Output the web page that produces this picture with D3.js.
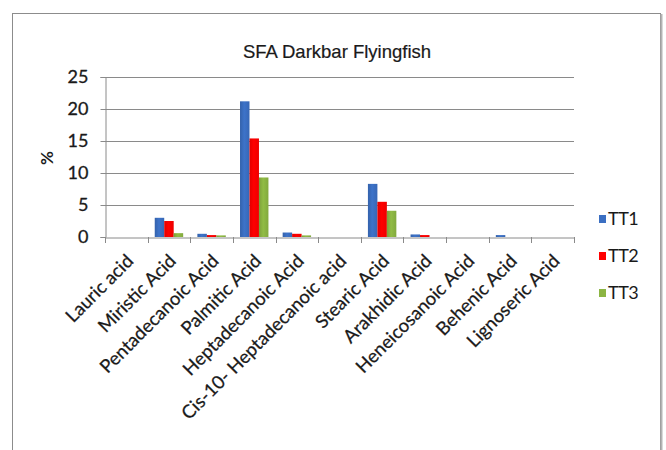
<!DOCTYPE html>
<html>
<head>
<meta charset="utf-8">
<script src="https://cdn.jsdelivr.net/npm/d3@7"></script>
<style>
  html, body { margin: 0; padding: 0; background: #fff; }
  svg { display: block; }
</style>
</head>
<body>
<svg id="chart" width="666" height="450"></svg>
<script>
// Fatty acid categories (x axis)
const categories = [
  "Lauric acid", "Miristic Acid", "Pentadecanoic Acid", "Palmitic Acid",
  "Heptadecanoic Acid", "Cis-10- Heptadecanoic acid", "Stearic Acid",
  "Arakhidic Acid", "Heneicosanoic Acid", "Behenic Acid", "Lignoseric Acid"
];
// Series names and their values (%)
const seriesNames = ["TT1", "TT2", "TT3"];
const tt1 = [0, 3.0, 0.5, 21.2, 0.7, 0, 8.3, 0.4, 0, 0.3, 0];
const tt2 = [0, 2.5, 0.3, 15.4, 0.5, 0, 5.5, 0.3, 0, 0, 0];
const tt3 = [0, 0.6, 0.25, 9.3, 0.25, 0, 4.1, 0, 0, 0, 0];
const yTicks = [0, 5, 10, 15, 20, 25];
const colors = ["#3b6fc2", "#ff0000", "#8cb543"];

const svg = d3.select("#chart");
const labelFont = "Lato, 'Open Sans', sans-serif";

// Chart frame
svg.append("rect").attr("x", 12.5).attr("y", 13.5).attr("width", 648).attr("height", 460)
  .attr("fill", "#fff").attr("stroke", "#8c8c8c").attr("stroke-width", 1);
svg.append("line").attr("x1", 661.5).attr("x2", 661.5).attr("y1", 14).attr("y2", 450)
  .attr("stroke", "#b4b4b4").attr("stroke-width", 2);

// Gradients for the bars
const defs = svg.append("defs");
colors.forEach((c, i) => {
  const g = defs.append("linearGradient").attr("id", "grad" + i)
    .attr("x1", "0%").attr("x2", "100%").attr("y1", "0%").attr("y2", "0%");
  const base = d3.color(c);
  g.append("stop").attr("offset", "0%").attr("stop-color", base.darker(0.35));
  g.append("stop").attr("offset", "45%").attr("stop-color", base.brighter(0.1));
  g.append("stop").attr("offset", "100%").attr("stop-color", base.darker(0.2));
});

// Scales
const x = d3.scaleBand().domain(categories).range([105, 574]).paddingInner(0).paddingOuter(0);
const bw = x.bandwidth();
const xs = d3.scaleBand().domain(seriesNames).range([bw / 6, bw * 5 / 6]).padding(0);
const y = d3.scaleLinear().domain([0, 25]).range([237, 77]);

// Gridlines
svg.append("g").selectAll("line").data(yTicks.filter(t => t > 0)).join("line")
  .attr("x1", 105).attr("x2", 574)
  .attr("y1", d => Math.round(y(d)) + 0.5).attr("y2", d => Math.round(y(d)) + 0.5)
  .attr("stroke", "#8a8a8a").attr("stroke-width", 1);

// Y axis
const yAxis = svg.append("g").attr("transform", "translate(105.5,0)")
  .call(d3.axisLeft(y).tickValues(yTicks).tickSize(5).tickPadding(12));
yAxis.select(".domain").attr("stroke", "#8a8a8a");
yAxis.selectAll(".tick line").attr("stroke", "#8a8a8a");
yAxis.selectAll(".tick text").attr("font-family", labelFont).attr("font-size", 18)
  .attr("fill", "#1a1a1a").attr("stroke", "#1a1a1a").attr("stroke-width", 0.3);

// Bars
const series = [tt1, tt2, tt3];
const groups = svg.append("g").selectAll("g").data(categories).join("g")
  .attr("transform", d => `translate(${x(d)},0)`);
groups.selectAll("rect")
  .data((d, i) => seriesNames.map((s, k) => ({ s, k, v: series[k][i] })))
  .join("rect")
  .attr("x", d => xs(d.s))
  .attr("width", xs.bandwidth())
  .attr("y", d => y(d.v))
  .attr("height", d => y(0) - y(d.v))
  .attr("fill", d => `url(#grad${d.k})`);

// X axis with ticks at category boundaries
const xAxis = svg.append("g").attr("transform", "translate(0,237.5)")
  .call(d3.axisBottom(x).tickSize(0).tickFormat(""));
xAxis.select(".domain").attr("stroke", "#8a8a8a");
const bounds = categories.map(c => x(c)).concat([x.range()[1]]);
svg.append("g").selectAll("line").data(bounds).join("line")
  .attr("x1", d => Math.round(d) + 0.5).attr("x2", d => Math.round(d) + 0.5)
  .attr("y1", 237).attr("y2", 243)
  .attr("stroke", "#8a8a8a");

// Rotated category labels
svg.append("g").selectAll("text").data(categories).join("text")
  .attr("transform", d => `translate(${x(d) + bw / 2 - 1},${253}) rotate(-45)`)
  .attr("text-anchor", "end")
  .attr("dy", "0.7em")
  .attr("font-family", labelFont).attr("font-size", 18.5).attr("fill", "#1a1a1a")
  .attr("stroke", "#1a1a1a").attr("stroke-width", 0.25)
  .text(d => d);

// Title
svg.append("text").attr("x", 337).attr("y", 58).attr("text-anchor", "middle")
  .attr("font-family", "'Liberation Sans', Arial, sans-serif").attr("font-size", 18.5)
  .attr("fill", "#1a1a1a").attr("stroke", "#1a1a1a").attr("stroke-width", 0.2)
  .text("SFA Darkbar Flyingfish");

// Y axis title
svg.append("text").attr("transform", "translate(53,158) rotate(-90)")
  .attr("text-anchor", "middle")
  .attr("font-family", labelFont).attr("font-size", 17).attr("font-weight", "bold")
  .attr("fill", "#1a1a1a").text("%");

// Legend
const legend = svg.append("g").selectAll("g").data(seriesNames).join("g")
  .attr("transform", (d, i) => `translate(599,${219 + i * 37})`);
legend.append("rect").attr("x", 0).attr("y", -4).attr("width", 7).attr("height", 8)
  .attr("fill", (d, i) => colors[i]);
legend.append("text").attr("x", 9).attr("y", 0).attr("dy", "0.36em")
  .attr("font-family", labelFont).attr("font-size", 18).attr("fill", "#1a1a1a")
  .attr("letter-spacing", -0.5)
  .text(d => d);
</script>
</body>
</html>
